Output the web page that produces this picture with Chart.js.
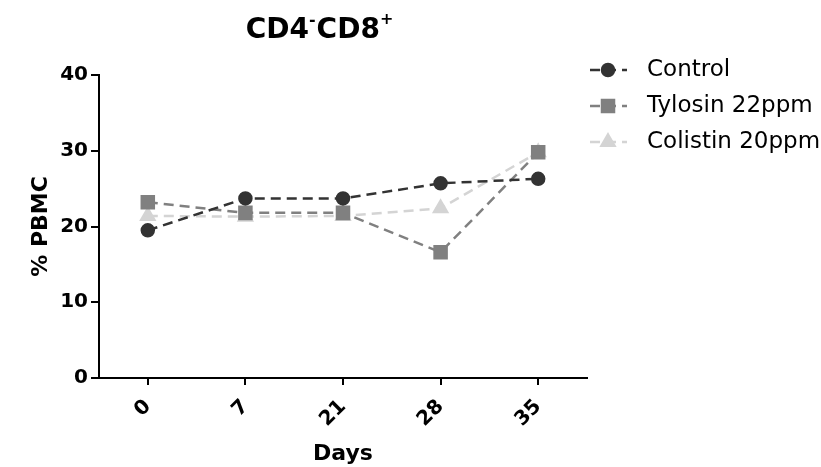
<!DOCTYPE html>
<html>
<head>
<meta charset="utf-8">
<script src="https://cdn.jsdelivr.net/npm/chart.js@4"></script>
<style>
  html, body { margin: 0; padding: 0; background: #fff; }
  #wrap { width: 821px; height: 467px; }
</style>
</head>
<body>
<div id="wrap"><canvas id="c" width="821" height="467"></canvas></div>
<script>
const days = ['0', '7', '21', '28', '35'];
const control = [19.5, 23.7, 23.7, 25.7, 26.3];
const tylosin = [23.2, 21.8, 21.8, 16.6, 29.8];
const colistin = [21.4, 21.3, 21.4, 22.4, 29.8];
const seriesNames = ['Control', 'Tylosin 22ppm', 'Colistin 20ppm'];
const yTicks = [0, 10, 20, 30, 40];

const FONT = '"DejaVu Sans", "Liberation Sans", sans-serif';
Chart.defaults.color = '#000';
Chart.defaults.font.family = FONT;

const titlePlugin = {
  id: 'customTitle',
  afterDraw(chart) {
    const ctx = chart.ctx;
    ctx.save();
    ctx.fillStyle = '#000';
    ctx.textBaseline = 'alphabetic';
    ctx.textAlign = 'left';
    const big = 'bold 28px ' + FONT;
    const small = 'bold 16px ' + FONT;
    const parts = [['CD4', big, 0], ['-', small, -13], ['CD8', big, 0], ['+', small, -14]];
    let total = 0;
    parts.forEach(p => { ctx.font = p[1]; total += ctx.measureText(p[0]).width + (p[1] === small ? 1 : 0); });
    let x = 320 - total / 2;
    const base = 38;
    parts.forEach(p => {
      ctx.font = p[1];
      ctx.fillText(p[0], x, base + p[2]);
      x += ctx.measureText(p[0]).width + (p[1] === small ? 1 : 0);
    });
    ctx.restore();
  }
};

const legendPlugin = {
  id: 'customLegend',
  afterDraw(chart) {
    const ctx = chart.ctx;
    const rows = [70, 106, 142];
    chart.data.datasets.forEach((ds, i) => {
      const y = rows[i];
      ctx.save();
      ctx.strokeStyle = ds.borderColor;
      ctx.lineWidth = 2.5;
      ctx.setLineDash([10, 6]);
      ctx.beginPath();
      ctx.moveTo(590, y);
      ctx.lineTo(627, y);
      ctx.stroke();
      ctx.setLineDash([]);
      ctx.fillStyle = ds.pointBackgroundColor;
      ctx.strokeStyle = ds.pointBorderColor;
      Chart.helpers.drawPoint(ctx, {pointStyle: ds.pointStyle, rotation: 0, borderWidth: 1, radius: ds.pointRadius}, 608, y);
      ctx.fillStyle = '#000';
      ctx.font = '23px ' + FONT;
      ctx.textBaseline = 'middle';
      ctx.textAlign = 'left';
      ctx.fillText(ds.label, 647, y);
      ctx.restore();
    });
  }
};

function mkDs(label, data, color, style, r) {
  return {
    label, data,
    borderColor: color,
    backgroundColor: color,
    pointBackgroundColor: color,
    pointBorderColor: color,
    pointStyle: style,
    pointRadius: r,
    pointHoverRadius: r,
    borderWidth: 2.5,
    borderDash: [10, 6],
    tension: 0,
    fill: false
  };
}

new Chart(document.getElementById('c'), {
  type: 'line',
  data: {
    labels: days,
    datasets: [
      mkDs(seriesNames[0], control, '#333333', 'circle', 6),
      mkDs(seriesNames[1], tylosin, '#808080', 'rect', 8.5),
      mkDs(seriesNames[2], colistin, '#d4d4d4', 'triangle', 7.5)
    ]
  },
  options: {
    responsive: false,
    animation: false,
    devicePixelRatio: 1,
    layout: { padding: { left: 0, right: 234, top: 75, bottom: 0 } },
    plugins: { legend: { display: false }, title: { display: false }, tooltip: { enabled: false } },
    scales: {
      x: {
        offset: true,
        grid: { display: true, drawOnChartArea: false, drawTicks: true, tickLength: 7, color: '#000', lineWidth: 2 },
        border: { display: true, color: '#000', width: 2 },
        ticks: { minRotation: 45, maxRotation: 45, padding: 10, color: '#000', font: { size: 20, weight: 'bold', family: FONT } },
        title: { display: true, text: 'Days', color: '#000', font: { size: 22, weight: 'bold', family: FONT }, padding: { top: 4, bottom: 0 } },
        afterFit(scale) { scale.height = 89; }
      },
      y: {
        min: yTicks[0],
        max: yTicks[yTicks.length - 1],
        afterBuildTicks(scale) { scale.ticks = yTicks.map(v => ({ value: v })); },
        grid: { display: true, drawOnChartArea: false, drawTicks: true, tickLength: 8, color: '#000', lineWidth: 2 },
        border: { display: true, color: '#000', width: 2 },
        ticks: { padding: 3, color: '#000', font: { size: 20, weight: 'bold', family: FONT } },
        title: { display: true, text: '% PBMC', color: '#000', font: { size: 22, weight: 'bold', family: FONT }, padding: { top: 28, bottom: 0 } },
        afterFit(scale) { scale.width = 99; }
      }
    }
  },
  plugins: [titlePlugin, legendPlugin]
});
</script>
</body>
</html>
